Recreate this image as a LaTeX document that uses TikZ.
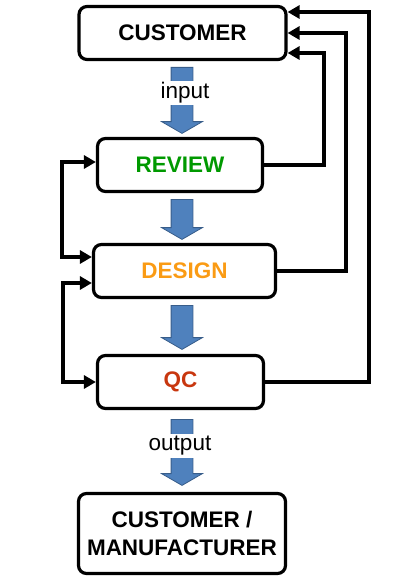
\documentclass[tikz,border=0pt]{standalone}
\usepackage{fontspec}
\setmainfont{Liberation Sans}
\usepackage{xcolor}
\usetikzlibrary{arrows.meta,positioning,shapes.arrows}
\definecolor{FlowBlue}{RGB}{79,129,189}
\definecolor{FlowEdge}{RGB}{56,93,138}
\definecolor{RevGreen}{RGB}{0,153,0}
\definecolor{DesOrange}{RGB}{250,155,20}
\definecolor{QcRed}{RGB}{200,55,15}
\tikzset{
  stage/.style={rectangle,rounded corners=8pt,draw=black,line width=3.2pt,
                minimum height=53pt,inner sep=2pt,align=center,
                font=\fontsize{22.5}{28}\selectfont\bfseries},
  flow/.style={single arrow,rotate=-90,anchor=tail,fill=FlowBlue,draw=FlowEdge,
               line width=0.8pt,minimum width=40pt,inner xsep=0pt,inner ysep=10.5pt,
               single arrow head extend=9.5pt,single arrow tip angle=120},
  flowlbl/.style={fill=white,inner sep=2pt,font=\fontsize{22.5}{28}\selectfont},
  fbline/.style={line width=4pt,-{Triangle[length=12pt,width=13pt]}},
  loopline/.style={line width=4pt,
                   {Triangle[length=12pt,width=13pt]}-{Triangle[length=12pt,width=13pt]}},
}

\begin{document}
\begin{tikzpicture}[x=1pt,y=-1pt]
  \useasboundingbox (0,0) rectangle (400,580);

  % stages
  \node[stage,minimum width=207pt] (cust) at (182.5,33) {CUSTOMER};
  \node[stage,minimum width=165pt,text=RevGreen] (review) at (180,165) {REVIEW};
  \node[stage,minimum width=182pt,text=DesOrange] (design) at (184.5,271) {DESIGN};
  \node[stage,minimum width=166pt,text=QcRed] (qc) at (180.5,382) {QC};
  \node[stage,minimum width=207pt,minimum height=80pt] (mfr) at (182,533.5)
    {CUSTOMER /\\ MANUFACTURER};

  % block arrows down the middle
  \node[flow,minimum height=66pt] (inflow) at (182,67) {};
  \node[flow,minimum height=40pt] (revflow) at (182,199) {};
  \node[flow,minimum height=44pt] (desflow) at (182,305) {};
  \node[flow,minimum height=66pt] (outflow) at (182,419) {};
  \node[flowlbl] (inlbl) at (185,93) {input};
  \node[flowlbl] (outlbl) at (180,446) {output};

  % feedback to the customer
  \draw[fbline] (review.east) -- ++(60,0) |- ([yshift=-20pt]cust.east);
  \draw[fbline] (design.east) -- ++(69,0) |- (cust.east);
  \draw[fbline] (qc.east) -- ++(104,0) |- ([yshift=21pt]cust.east);

  % loops on the left
  \draw[loopline] ([yshift=3pt]review.west) -- ++(-34,0) |- ([yshift=14pt]design.west);
  \draw[loopline] ([yshift=-12pt]design.west) -- ++(-29,0) |- (qc.west);
\end{tikzpicture}
\end{document}
